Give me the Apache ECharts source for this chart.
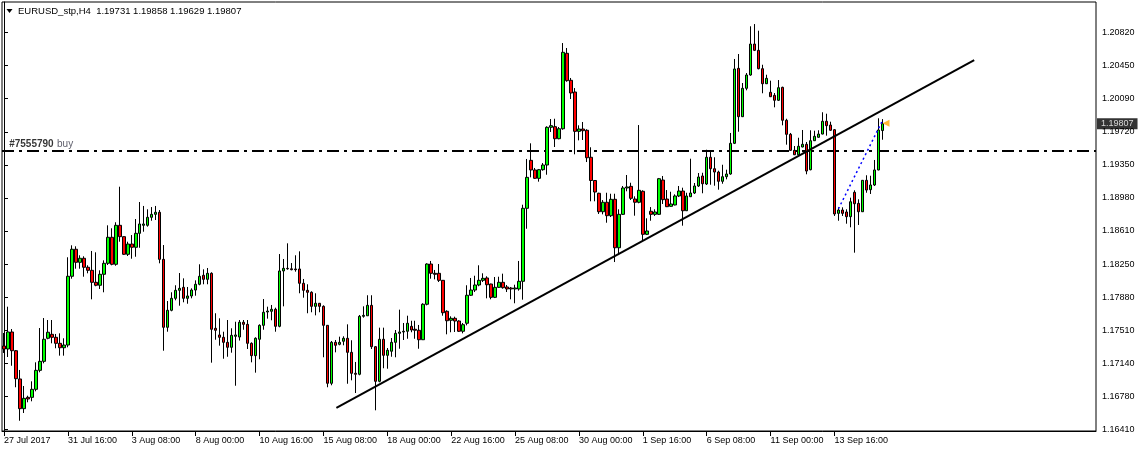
<!DOCTYPE html>
<html><head><meta charset="utf-8">
<script src="https://cdn.jsdelivr.net/npm/echarts@6/dist/echarts.min.js"></script>
<style>html,body{margin:0;padding:0;background:#fff}#c{width:1139px;height:452px}</style>
</head><body><div id="c"></div>
<script>
const symbolTitle = 'EURUSD_stp,H4';
const openP = [1.17337,1.17304,1.17493,1.17285,1.16971,1.16641,1.16767,1.16767,1.16856,1.17067,1.17167,1.17423,1.17467,1.17434,1.17367,1.17318,1.17348,1.18112,1.18412,1.18267,1.18312,1.18212,1.18178,1.18045,1.18012,1.18134,1.18256,1.18545,1.18245,1.18678,1.18552,1.18356,1.18470,1.18434,1.18589,1.18678,1.18678,1.18767,1.18800,1.18823,1.18300,1.17545,1.17734,1.17867,1.17956,1.17989,1.17867,1.17893,1.17959,1.18023,1.18123,1.18078,1.18145,1.17534,1.17460,1.17434,1.17378,1.17323,1.17445,1.17437,1.17601,1.17578,1.17367,1.17230,1.17412,1.17567,1.17715,1.17723,1.17745,1.17556,1.18171,1.18200,1.18195,1.18193,1.18193,1.18034,1.17956,1.17934,1.17778,1.17812,1.17778,1.17567,1.16923,1.17378,1.17356,1.17390,1.17423,1.17267,1.17034,1.17023,1.17667,1.17673,1.17789,1.17330,1.16945,1.17412,1.17234,1.17279,1.17378,1.17478,1.17493,1.17501,1.17556,1.17523,1.17512,1.17407,1.17801,1.18248,1.18145,1.18145,1.18067,1.17723,1.17623,1.17645,1.17615,1.17501,1.17590,1.17901,1.17959,1.18015,1.18067,1.18093,1.18026,1.17878,1.17989,1.18045,1.17993,1.17982,1.17971,1.17971,1.18056,1.18867,1.19400,1.19293,1.19200,1.19296,1.19348,1.19767,1.19774,1.19640,1.19751,1.20589,1.20289,1.20159,1.19722,1.19748,1.19734,1.19434,1.19176,1.19034,1.18829,1.18934,1.18785,1.18967,1.18429,1.18800,1.19093,1.19111,1.18970,1.18934,1.19056,1.18578,1.18834,1.18800,1.18800,1.19181,1.18970,1.18889,1.18904,1.19004,1.19059,1.18840,1.18996,1.19037,1.19115,1.19226,1.19137,1.19434,1.19307,1.19270,1.19167,1.19218,1.19248,1.19589,1.20422,1.19885,1.20200,1.20348,1.20692,1.20622,1.20418,1.20251,1.20156,1.20122,1.20067,1.20211,1.19845,1.19689,1.19511,1.19462,1.19548,1.19578,1.19296,1.19618,1.19656,1.19692,1.19834,1.19792,1.19740,1.18811,1.18848,1.18826,1.18774,1.19045,1.18922,1.18829,1.19178,1.19074,1.19126,1.19293,1.19731];
const highP = [1.17482,1.17774,1.17526,1.17293,1.17071,1.16893,1.16785,1.16945,1.17156,1.17537,1.17648,1.17626,1.17626,1.17471,1.17478,1.17423,1.18323,1.18456,1.18445,1.18345,1.18334,1.18234,1.18393,1.18378,1.18178,1.18289,1.18678,1.18645,1.18712,1.19107,1.18556,1.18496,1.18570,1.18748,1.18937,1.18893,1.18856,1.18881,1.18893,1.18848,1.18459,1.17837,1.17934,1.18012,1.18148,1.18089,1.17993,1.17978,1.18067,1.18245,1.18189,1.18204,1.18156,1.17701,1.17645,1.17496,1.17626,1.17534,1.17607,1.17626,1.17626,1.17626,1.17378,1.17434,1.17578,1.17859,1.17774,1.17793,1.17763,1.18359,1.18304,1.18478,1.18259,1.18345,1.18389,1.18082,1.18023,1.17945,1.17923,1.17815,1.17789,1.17570,1.17393,1.17404,1.17441,1.17445,1.17578,1.17401,1.17160,1.17682,1.17778,1.17901,1.17901,1.17335,1.17541,1.17541,1.17315,1.17426,1.17515,1.17741,1.17593,1.17674,1.17618,1.17618,1.17571,1.17812,1.18256,1.18282,1.18182,1.18248,1.18070,1.17734,1.17667,1.17663,1.17623,1.17593,1.18012,1.18093,1.18118,1.18234,1.18145,1.18112,1.18029,1.18104,1.18107,1.18141,1.18015,1.17993,1.18018,1.18282,1.18907,1.19415,1.19589,1.19315,1.19304,1.19370,1.19778,1.19859,1.19862,1.19770,1.20703,1.20648,1.20315,1.20203,1.19789,1.19826,1.19745,1.19545,1.19180,1.19040,1.18959,1.19040,1.19029,1.19029,1.18856,1.19115,1.19237,1.19151,1.19000,1.19792,1.19067,1.18756,1.18881,1.18856,1.19204,1.19226,1.19070,1.19051,1.19022,1.19115,1.19096,1.19040,1.19418,1.19148,1.19259,1.19262,1.19518,1.19500,1.19434,1.19285,1.19351,1.19296,1.19704,1.20526,1.20581,1.20259,1.20370,1.20889,1.20914,1.20840,1.20462,1.20351,1.20285,1.20148,1.20292,1.20218,1.19862,1.19704,1.19559,1.19651,1.19737,1.19604,1.19734,1.19729,1.19734,1.19934,1.19918,1.19829,1.19748,1.18878,1.18878,1.18856,1.18985,1.19067,1.18967,1.19181,1.19234,1.19229,1.19404,1.19867,1.19858];
const lowP = [1.17260,1.17215,1.17118,1.16879,1.16507,1.16593,1.16712,1.16723,1.16834,1.17045,1.17145,1.17412,1.17367,1.17312,1.17230,1.17230,1.17323,1.18085,1.18196,1.18196,1.18107,1.18145,1.17856,1.18001,1.17971,1.17934,1.18237,1.18234,1.18229,1.18496,1.18348,1.18337,1.18307,1.18329,1.18429,1.18607,1.18663,1.18729,1.18737,1.18256,1.17285,1.17496,1.17723,1.17845,1.17785,1.17823,1.17807,1.17867,1.17896,1.18012,1.18023,1.18023,1.17152,1.17407,1.17341,1.17196,1.17218,1.17263,1.16896,1.17398,1.17518,1.17304,1.17156,1.17041,1.17190,1.17518,1.17641,1.17623,1.17496,1.17545,1.17778,1.18185,1.18178,1.18163,1.17923,1.17874,1.17701,1.17712,1.17678,1.17712,1.17212,1.16879,1.16901,1.17267,1.17345,1.17345,1.16918,1.16956,1.16815,1.17012,1.17652,1.17671,1.17304,1.16623,1.16934,1.17090,1.17085,1.17218,1.17212,1.17307,1.17404,1.17418,1.17490,1.17418,1.17307,1.17404,1.17789,1.18085,1.18078,1.18048,1.17674,1.17467,1.17490,1.17493,1.17493,1.17478,1.17567,1.17893,1.17937,1.18001,1.18048,1.17867,1.17856,1.17870,1.17982,1.17974,1.17937,1.17856,1.17812,1.17952,1.17852,1.18640,1.19211,1.19193,1.19163,1.19285,1.19240,1.19715,1.19548,1.19634,1.19740,1.20273,1.20081,1.19467,1.19622,1.19626,1.19381,1.18945,1.18945,1.18804,1.18800,1.18707,1.18770,1.18270,1.18348,1.18793,1.19056,1.18959,1.18785,1.18923,1.18515,1.18570,1.18729,1.18782,1.18793,1.18915,1.18881,1.18885,1.18900,1.18992,1.18674,1.18837,1.18992,1.19026,1.19104,1.19034,1.19126,1.19129,1.19118,1.19074,1.19140,1.19189,1.19240,1.19581,1.19718,1.19881,1.20178,1.20340,1.20614,1.20411,1.20145,1.20248,1.20103,1.19989,1.20059,1.19789,1.19574,1.19507,1.19459,1.19456,1.19545,1.19245,1.19289,1.19615,1.19651,1.19689,1.19674,1.19726,1.18782,1.18729,1.18782,1.18696,1.18656,1.18374,1.18682,1.18826,1.19040,1.19026,1.19115,1.19289,1.19629];
const closeP = [1.17304,1.17493,1.17285,1.16974,1.16641,1.16756,1.16749,1.16856,1.17067,1.17167,1.17412,1.17490,1.17434,1.17367,1.17318,1.17348,1.18112,1.18412,1.18267,1.18312,1.18212,1.18178,1.18045,1.18012,1.18134,1.18256,1.18545,1.18245,1.18678,1.18552,1.18356,1.18470,1.18434,1.18589,1.18693,1.18693,1.18767,1.18800,1.18823,1.18300,1.17545,1.17734,1.17867,1.17956,1.17978,1.17867,1.17893,1.17959,1.18023,1.18112,1.18078,1.18145,1.17523,1.17512,1.17434,1.17378,1.17323,1.17456,1.17460,1.17601,1.17578,1.17367,1.17230,1.17423,1.17567,1.17712,1.17726,1.17745,1.17556,1.18171,1.18200,1.18195,1.18185,1.18185,1.18034,1.17956,1.17934,1.17778,1.17812,1.17778,1.17567,1.16923,1.17378,1.17345,1.17378,1.17423,1.17267,1.17034,1.17023,1.17667,1.17678,1.17789,1.17330,1.16945,1.17412,1.17234,1.17290,1.17378,1.17478,1.17493,1.17501,1.17590,1.17515,1.17512,1.17407,1.17801,1.18248,1.18145,1.18134,1.18067,1.17707,1.17618,1.17645,1.17615,1.17501,1.17574,1.17901,1.17959,1.18015,1.18067,1.18089,1.18018,1.17878,1.17989,1.18045,1.17985,1.17971,1.17971,1.17982,1.18056,1.18867,1.19211,1.19293,1.19200,1.19296,1.19348,1.19767,1.19785,1.19640,1.19751,1.20600,1.20285,1.20148,1.19722,1.19748,1.19729,1.19429,1.19176,1.19048,1.18829,1.18934,1.18785,1.18967,1.18429,1.18800,1.19093,1.19104,1.18978,1.18934,1.19067,1.18578,1.18615,1.18800,1.18826,1.19196,1.18963,1.18885,1.18915,1.19004,1.19059,1.18840,1.19004,1.19037,1.19115,1.19215,1.19140,1.19434,1.19307,1.19270,1.19167,1.19218,1.19248,1.19589,1.20415,1.19885,1.20200,1.20348,1.20692,1.20622,1.20418,1.20251,1.20311,1.20107,1.20067,1.20207,1.19845,1.19689,1.19511,1.19462,1.19556,1.19578,1.19281,1.19618,1.19667,1.19692,1.19834,1.19785,1.19734,1.18804,1.18848,1.18811,1.18774,1.18940,1.18918,1.18829,1.19178,1.19070,1.19126,1.19293,1.19737,1.19807];
const xTickLabels = ['27 Jul 2017','31 Jul 16:00','3 Aug 08:00','8 Aug 00:00','10 Aug 16:00','15 Aug 08:00','18 Aug 00:00','22 Aug 16:00','25 Aug 08:00','30 Aug 00:00','1 Sep 16:00','6 Sep 08:00','11 Sep 00:00','13 Sep 16:00'];
const barsPerTick = 16;
const yTickLabels = ['1.16410','1.16780','1.17140','1.17510','1.17880','1.18250','1.18610','1.18980','1.19350','1.19720','1.20090','1.20450','1.20820'];
const yTickStart = 1.16410, yTickStep = 0.003675;
const yMin = 1.16393, yMax = 1.21159;
const totalSlots = 274;
const orderLevel = 1.19504;
const orderTicket = '#7555790', orderType = 'buy';
const trendLine = [[83.25, 1.16649], [243, 1.20514]];
const tradeLine = [[209, 1.18862], [220, 1.19840]];
const tradeArrow = [[220.9, 1.19812]];

const FONT = 'Liberation Sans';
const n = openP.length;
const cats = Array.from({length: totalSlots}, (_, i) => String(i));
const candles = openP.map((o, i) => [o, closeP[i], lowP[i], highP[i]]);
const yTickValues = yTickLabels.map((_, i) => yTickStart + i * yTickStep);
const lastClose = closeP[n - 1];
const xFirst = -0.5, xLast = totalSlots - 0.5;

const chart = echarts.init(document.getElementById('c'), null, {renderer: 'canvas'});
chart.setOption({
  animation: false,
  backgroundColor: '#fff',
  grid: {left: 2, top: 2, width: 1094, height: 429, show: true, borderColor: '#000', borderWidth: 1, backgroundColor: '#fff'},
  xAxis: [{
    type: 'category', data: cats, boundaryGap: true, position: 'bottom',
    axisLine: {show: true, lineStyle: {color: '#000', width: 1}},
    axisTick: {show: true, alignWithLabel: true, length: 5, lineStyle: {color: '#000'},
      interval: (i) => i % barsPerTick === 0 && i / barsPerTick < xTickLabels.length},
    axisLabel: {show: true, interval: (i) => i % barsPerTick === 0 && i / barsPerTick < xTickLabels.length,
      formatter: (v, i) => xTickLabels[i / barsPerTick] || '',
      align: 'left', margin: 5, color: '#000', fontFamily: FONT, fontSize: 9},
    splitLine: {show: false}
  }, {
    type: 'value', min: xFirst, max: xLast, show: false
  }],
  yAxis: {
    type: 'value', position: 'right', min: yMin, max: yMax, scale: true,
    axisLine: {show: true, lineStyle: {color: '#000'}},
    axisTick: {show: true, length: 4, customValues: yTickValues, lineStyle: {color: '#000'}},
    axisLabel: {show: true, customValues: yTickValues, margin: 6, color: '#000', fontFamily: FONT, fontSize: 9,
      formatter: (v) => yTickLabels[Math.round((v - yTickStart) / yTickStep)] || ''},
    splitLine: {show: false}
  },
  series: [{
    type: 'line', xAxisIndex: 1, yAxisIndex: 0, symbol: 'none', z: 1, silent: true,
    data: [[xFirst, orderLevel], [xLast, orderLevel]],
    lineStyle: {color: '#000', width: 2, type: [12, 5, 3, 5]}
  }, {
    type: 'candlestick', xAxisIndex: 0, yAxisIndex: 0, data: candles, barWidth: 3, z: 2,
    itemStyle: {color: '#00ff00', color0: '#ff0000', borderColor: '#000', borderColor0: '#000', borderWidth: 1}
  }, {
    type: 'line', xAxisIndex: 1, yAxisIndex: 0, data: trendLine, symbol: 'none',
    lineStyle: {color: '#000', width: 2}, z: 3
  }, {
    type: 'line', xAxisIndex: 1, yAxisIndex: 0, data: tradeLine, symbol: 'none',
    lineStyle: {color: '#0000ff', width: 1.5, type: [2, 3]}, z: 4
  }, {
    type: 'scatter', xAxisIndex: 1, yAxisIndex: 0, data: tradeArrow, symbol: 'triangle', symbolSize: [7, 7], symbolRotate: 90,
    itemStyle: {color: '#ffa500'}, z: 5
  }, {
    type: 'scatter', xAxisIndex: 1, yAxisIndex: 0, symbolSize: 0, z: 6, clip: false, silent: true,
    data: [
      {value: [1.3, orderLevel], label: {show: true, position: [0, -13], align: 'left', verticalAlign: 'top',
        formatter: '{a|' + orderTicket + '} {b|' + orderType + '}',
        rich: {a: {fontFamily: FONT, fontSize: 10, fontWeight: 'bold', color: '#000'},
               b: {fontFamily: FONT, fontSize: 10, color: '#334'}}}},
      {value: [xLast, lastClose], label: {show: true, position: 'right', distance: 1, formatter: lastClose.toFixed(5),
        backgroundColor: '#000', color: '#fff', padding: [1, 4, 1, 4], fontFamily: FONT, fontSize: 9}}
    ]
  }],
  graphic: [
    {type: 'polygon', shape: {points: [[6.5, 9], [12.5, 9], [9.5, 13]]}, style: {fill: '#000'}},
    {type: 'text', x: 18, y: 11, style: {text: symbolTitle + '  ' + [openP[n-1], highP[n-1], lowP[n-1], closeP[n-1]].map(v => v.toFixed(5)).join(' '),
      font: '9.5px "Liberation Sans"', fill: '#000', verticalAlign: 'middle'}}
  ]
});
</script></body></html>
